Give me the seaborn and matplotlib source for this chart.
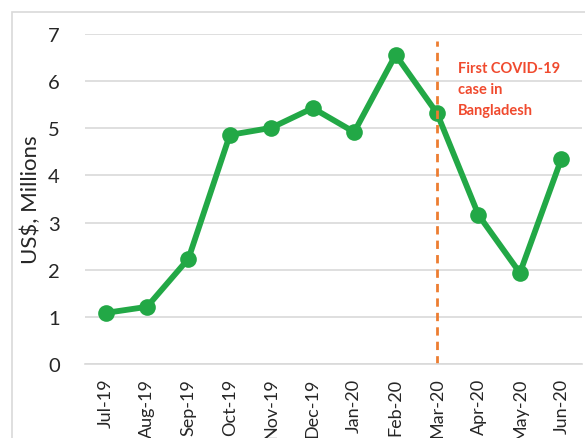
import numpy as np
import pandas as pd
import seaborn as sns
import matplotlib.pyplot as plt
from matplotlib.patches import Rectangle

# monthly values
months = ["Jul-19", "Aug-19", "Sep-19", "Oct-19", "Nov-19", "Dec-19",
          "Jan-20", "Feb-20", "Mar-20", "Apr-20", "May-20", "Jun-20"]
values = [1.08, 1.21, 2.23, 4.86, 5.01, 5.43, 4.92, 6.56, 5.32, 3.16, 1.93, 4.35]
covid_month = "Mar-20"
note = "First COVID-19\ncase in\nBangladesh"

df = pd.DataFrame({"month": months, "value": values})
df["pos"] = np.arange(len(months))

sns.set_style("white")
plt.rcParams['font.family'] = ['Lato', 'DejaVu Sans']

fig = plt.figure(figsize=(5.85, 4.39), dpi=100)
ax = fig.add_axes([0.145, 0.169, 0.85, 0.751])

# chart border like the original
fig.patches.append(Rectangle((12 / 585, -0.1), 1.2, 1 - 13 / 439 + 0.1, transform=fig.transFigure,
                             fill=False, edgecolor="#d9d9d9", linewidth=1.2))

sns.lineplot(data=df, x="pos", y="value", ax=ax, color="#22a846", linewidth=4.2,
             marker="o", markersize=12, markeredgewidth=0)

ci = months.index(covid_month)
ax.axvline(ci, ymin=0, ymax=(7 - 0.15) / 7, color="#ed7d31", linestyle=(0, (3, 2.2)), linewidth=2)
ax.text(ci + 0.5, 6.42, note, color="#f04a2e", fontsize=10.5, fontweight="bold",
        va="top", ha="left", linespacing=1.6)

ax.set_xlim(-0.5, len(months) - 0.5)
ax.set_ylim(0, 7)
ax.set_yticks(range(0, 8))
ax.set_xticks(df["pos"])
ax.set_xticklabels(months, rotation=90, fontsize=13)
ax.set_xticks(np.arange(-0.5, len(months), 1), minor=True)
ax.tick_params(axis="x", which="major", length=0, pad=10)
ax.tick_params(axis="x", which="minor", length=6, color="#d9d9d9", width=1.2, direction="out")
ax.tick_params(axis="y", length=0, pad=18, labelsize=14.5)
ax.yaxis.grid(True, color="#d9d9d9", linewidth=1.2)
ax.set_axisbelow(True)
for s in ["top", "right", "left"]:
    ax.spines[s].set_visible(False)
ax.spines["bottom"].set_color("#d9d9d9")
ax.spines["bottom"].set_linewidth(1.2)
ax.set_xlabel("")
ax.set_ylabel("US$, Millions", fontsize=16)
ax.yaxis.set_label_coords(-0.088, 0.5)

fig.savefig("out.png", dpi=100)
